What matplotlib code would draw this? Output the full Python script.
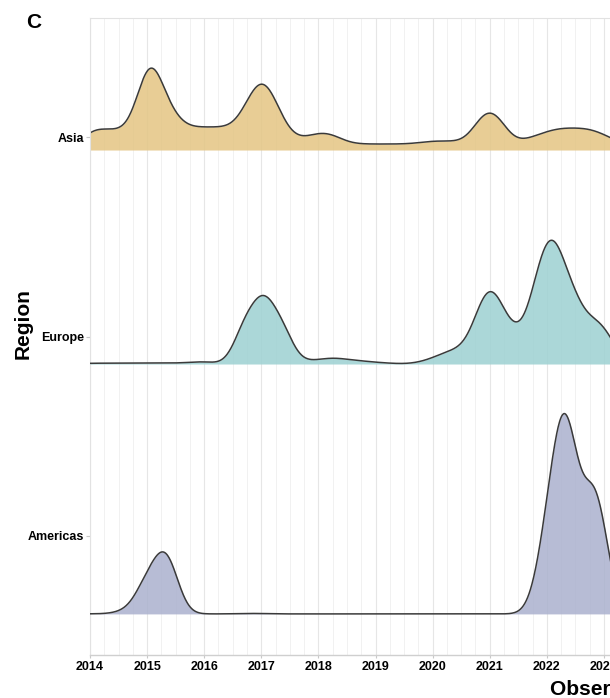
import numpy as np
import matplotlib.pyplot as plt

plt.rcParams['font.family'] = ['Liberation Sans', 'DejaVu Sans']

#regions, top to bottom
regions = ['Asia', 'Europe', 'Americas']
region_pos = [2, 1, 0]
colors = ['#E4C583', '#9DD1D2', '#ABB1CE']

#observation dates (decimal year) and how many records fall on them
asia_dates = [2014.00, 2014.25, 2014.50, 2014.75, 2015.00, 2015.25, 2015.50, 2015.75,
              2016.00, 2016.25, 2016.50, 2016.75, 2017.00, 2017.25, 2017.50, 2017.75,
              2018.00, 2018.25, 2018.50, 2018.75, 2019.00, 2019.25, 2019.50, 2019.75,
              2020.00, 2020.25, 2020.50, 2020.75, 2021.00, 2021.25, 2021.50, 2021.75,
              2022.00, 2022.25, 2022.50, 2022.75, 2023.00, 2023.25, 2023.50, 2023.75,
              2014.98, 2015.16, 2015.42, 2016.80, 2017.03, 2017.26, 2020.88, 2021.12]
asia_counts = [11.8, 10.5, 10.0, 10.0, 10.0, 10.0, 10.5, 11.5,
               11.5, 11.5, 11.5, 11.0, 10.5, 9.0, 6.5, 5.5,
               9.5, 8.5, 3.5, 3.0, 3.0, 3.0, 3.0, 3.5,
               4.7, 4.5, 4.2, 4.5, 4.5, 4.5, 4.0, 6.5,
               9.5, 11.2, 11.0, 11.0, 8.0, 4.0, 1.5, 0.5,
               36, 30, 10, 16, 30, 14, 16.7, 16.7]

europe_dates = [2014.00, 2014.25, 2014.50, 2014.75, 2015.00, 2015.25, 2015.50, 2015.75,
                2016.00, 2016.72, 2017.04, 2017.36, 2017.75, 2018.00, 2018.25, 2018.50,
                2018.75, 2019.00, 2019.25, 2019.75, 2020.00, 2020.25, 2020.50, 2020.75,
                2020.92, 2021.14, 2021.45, 2021.82, 2022.07, 2022.28, 2022.50, 2022.80,
                2023.05]
europe_counts = [0.5, 0.4, 0.4, 0.45, 0.45, 0.45, 0.5, 0.7,
                 1.7, 33, 51, 30, 1.2, 2.2, 3.6, 2.3,
                 1.6, 0.9, 0.4, 0.6, 3.0, 6.5, 8.0, 12,
                 38, 38, 20, 50, 74, 40, 36, 25,
                 20]

americas_dates = [2014.10, 2014.60, 2014.95, 2015.17, 2015.37, 2016.70, 2017.00,
                  2021.95, 2022.15, 2022.37, 2022.72, 2022.92]
americas_counts = [0.1, 2, 20, 22, 42, 0.3, 0.3,
                   33.7, 78, 135, 60, 72]

dates = [asia_dates, europe_dates, americas_dates]
counts = [asia_counts, europe_counts, americas_counts]

year_ticks = list(range(2014, 2025))
quarter_grid = np.arange(2014.0, 2024.01, 0.25)

#layout: ridge baseline offset from the label, bandwidth, pixels per category
baseline_shift = [-0.065, -0.138, -0.391]
bw = 0.2
px_per_unit = 199.5


#weighted gaussian kde
def kde(x, centers, weights, bw):
    centers = np.asarray(centers)[None, :]
    weights = np.asarray(weights)[None, :]
    k = np.exp(-0.5 * ((x[:, None] - centers) / bw) ** 2) / (bw * np.sqrt(2 * np.pi))
    return (k * weights).sum(axis=1)


fig = plt.figure(figsize=(6.1, 6.98), dpi=100)
ax = fig.add_axes([90 / 610, 43 / 698, 571 / 610, 637 / 698])

x = np.linspace(2014.0, 2024.0, 1200)
height_scale = bw * np.sqrt(2 * np.pi) / px_per_unit

for i, region in enumerate(regions):
    base = region_pos[i] + baseline_shift[i]
    h = kde(x, dates[i], counts[i], bw) * height_scale
    ax.fill_between(x, base, base + h, color=colors[i], alpha=0.85, lw=0, zorder=2 + i)
    ax.plot(x, base + h, color='#3a3a3a', lw=1.1, zorder=2.5 + i)

ax.set_xlim(2014, 2024)
ax.set_ylim(-0.597, 2.597)

ax.set_xticks(year_ticks)
ax.set_xticklabels([str(y) for y in year_ticks], fontsize=9, fontweight='bold')
ax.set_xticks(quarter_grid, minor=True)
ax.set_yticks(region_pos)
ax.set_yticklabels(regions, fontsize=9, fontweight='bold')

ax.tick_params(axis='x', which='major', length=2.5, width=0.8, color='#c8c8c8', pad=2)
ax.tick_params(axis='x', which='minor', length=0)
ax.tick_params(axis='y', length=3, width=0.8, color='#c8c8c8', pad=1.5)

ax.set_axisbelow(True)
ax.grid(axis='x', which='major', color='#e6e6e6', lw=0.8)
ax.grid(axis='x', which='minor', color='#f1f1f1', lw=0.7)

for s in ['top', 'left']:
    ax.spines[s].set_color('#e2e2e2')
    ax.spines[s].set_linewidth(0.8)
ax.spines['bottom'].set_color('#cfcfcf')
ax.spines['bottom'].set_linewidth(1.0)
ax.spines['right'].set_visible(False)

ax.set_ylabel('Region', fontsize=15, fontweight='bold')
ax.yaxis.set_label_coords(-0.0998, 0.52)
ax.set_xlabel('Observation Year', fontsize=15, fontweight='bold', ha='left')
ax.xaxis.set_label_coords(0.8056, -0.039)

fig.text(26 / 610, 1 - 28.3 / 698, 'C', fontsize=15, fontweight='bold', va='baseline')

fig.savefig('out.png', dpi=100)
